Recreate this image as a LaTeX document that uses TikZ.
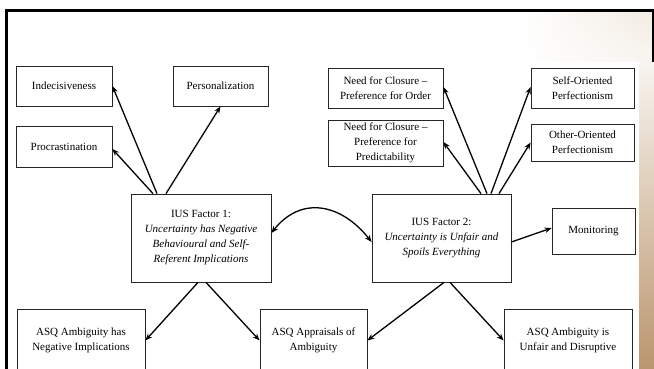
\documentclass[tikz,border=0pt]{standalone}
\usepackage{fontspec}
\setmainfont{Liberation Serif}
\usetikzlibrary{arrows.meta,calc,shadings}
\definecolor{beige}{RGB}{242,235,225}
\definecolor{beigelight}{RGB}{248,245,240}
\definecolor{tandark}{RGB}{186,150,110}
\begin{document}
\begin{tikzpicture}[x=1pt,y=-1pt,
  box/.style={draw=black!85, line width=0.8pt, fill=white, align=center,
    inner sep=0pt, font=\fontsize{11}{15}\selectfont},
  arr/.style={line width=1.3pt, -{Stealth[length=7pt,width=5.5pt]}},
  darr/.style={line width=1.3pt, {Stealth[length=7pt,width=5.5pt]}-{Stealth[length=7pt,width=5.5pt]}},
]
\useasboundingbox (0,0) rectangle (654,369);
\fill[white] (0,0) rectangle (654,369);
% slide background: frame and tinted right edge
\shade[upper left=white, upper right=beige, lower left=white, lower right=beigelight] (520,12) rectangle (654,62);
\shade[top color=beigelight, bottom color=tandark] (639,62) rectangle (654,369);
\draw[line width=3pt] (6,369) -- (6,11) -- (654,11);
\draw[line width=2pt] (652.5,11) -- (652.5,62);

% upper row
\node[box, minimum width=96pt, minimum height=40pt] (ind) at (64,86) {Indecisiveness};
\node[box, minimum width=95pt, minimum height=40pt] (pers) at (220.5,86) {Personalization};
\node[box, minimum width=96pt, minimum height=41pt] (proc) at (64,146.5) {Procrastination};
\node[box, minimum width=115pt, minimum height=40pt] (nfco) at (385.5,88) {Need for Closure --\\Preference for Order};
\node[box, minimum width=115pt, minimum height=46pt] (nfcp) at (385.5,143) {Need for Closure --\\Preference for\\Predictability};
\node[box, minimum width=103pt, minimum height=40pt] (self) at (582.5,88) {Self-Oriented\\Perfectionism};
\node[box, minimum width=103pt, minimum height=37pt] (other) at (582.5,142.5) {Other-Oriented\\Perfectionism};

% factors
\node[box, minimum width=140pt, minimum height=88pt] (ius1) at (201,238)
  {IUS Factor 1:\\\textit{Uncertainty has Negative}\\\textit{Behavioural and Self-}\\\textit{Referent Implications}};
\node[box, minimum width=139pt, minimum height=88pt] (ius2) at (441.5,238)
  {IUS Factor 2:\\\textit{Uncertainty is Unfair and}\\\textit{Spoils Everything}};
\node[box, minimum width=83pt, minimum height=46pt] (mon) at (593.5,231) {Monitoring};

% lower row
\node[box, minimum width=128pt, minimum height=63pt] (asq1) at (81,340.5) {ASQ Ambiguity has\\Negative Implications};
\node[box, minimum width=107pt, minimum height=63pt] (asq2) at (313.5,340.5) {ASQ Appraisals of\\Ambiguity};
\node[box, minimum width=128pt, minimum height=63pt] (asq3) at (568,340.5) {ASQ Ambiguity is\\Unfair and Disruptive};

% connectors from factor 1
\draw[arr] ([xshift=-44pt]ius1.north) -- (ind.east);
\draw[arr] ([xshift=-48pt]ius1.north) -- ([yshift=-2.5pt]proc.east);
\draw[arr] ([xshift=-35pt]ius1.north) -- (pers.south);
\draw[arr] ([xshift=-3pt]ius1.south) -- (asq1.east);
\draw[arr] ([xshift=5pt]ius1.south) -- (asq2.west);

% connectors from factor 2
\draw[arr] ([xshift=45.5pt]ius2.north) -- ([yshift=1pt]nfco.east);
\draw[arr] ([xshift=39.5pt]ius2.north) -- ([yshift=1pt]nfcp.east);
\draw[arr] ([xshift=49.5pt]ius2.north) -- ([yshift=1pt]self.west);
\draw[arr] ([xshift=57.5pt]ius2.north) -- (other.west);
\draw[arr] ([yshift=-4pt]ius2.east) -- ([yshift=3pt]mon.west);
\draw[arr] ([xshift=2.5pt]ius2.south) -- (asq2.east);
\draw[arr] ([xshift=8.5pt]ius2.south) -- (asq3.west);

% correlation between the two factors
\draw[darr] ([yshift=5pt]ius1.east) .. controls +(30,-38) and +(-30,-38) .. ([yshift=-4pt]ius2.west);
\end{tikzpicture}
\end{document}
